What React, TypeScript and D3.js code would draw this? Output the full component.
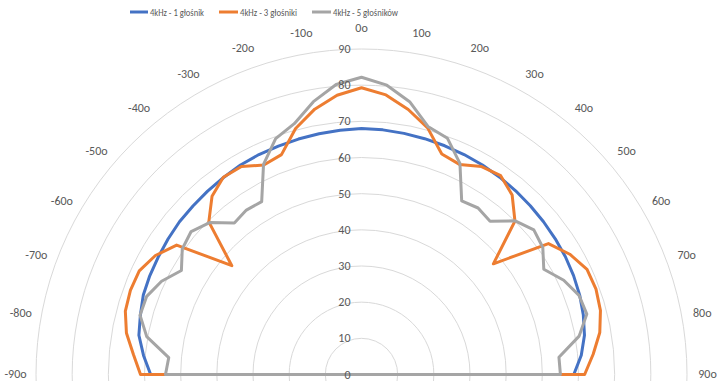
import React from "react";
import * as d3 from "d3";

const angleCats = [-90, -85, -80, -75, -70, -65, -60, -55, -50, -45, -40, -35, -30, -25, -20, -15, -10, -5, 0, 5, 10, 15, 20, 25, 30, 35, 40, 45, 50, 55, 60, 65, 70, 75, 80, 85, 90];
const angleLabels = ["-90o", "-80o", "-70o", "-60o", "-50o", "-40o", "-30o", "-20o", "-10o", "0o", "10o", "20o", "30o", "40o", "50o", "60o", "70o", "80o", "90o"];
const labelAngles = [-90, -80, -70, -60, -50, -40, -30, -20, -10, 0, 10, 20, 30, 40, 50, 60, 70, 80, 90];
const radialTicks = [0, 10, 20, 30, 40, 50, 60, 70, 80, 90];

const seriesNames = ["4kHz - 1 głośnik", "4kHz - 3 głośniki", "4kHz - 5 głośników"];
const seriesColors = ["#4472C4", "#ED7D31", "#A5A5A5"];

const s1 = [58.3, 60.5, 62.5, 63.3, 64.2, 64.6, 64.9, 65.3, 65.7, 65.9, 66.2, 66.5, 66.9, 67.1, 67.2, 67.4, 67.6, 67.8, 68.0,
  67.9, 67.7, 67.5, 67.3, 67.1, 66.9, 66.6, 66.3, 66.0, 65.7, 65.4, 65.1, 64.7, 64.2, 63.5, 62.6, 61.0, 58.7];
const s3 = [61.1, 63.3, 66.0, 67.6, 68.0, 67.8, 65.8, 62.4, 46.8, 59.7, 64.3, 66.6, 66.4, 63.9, 64.7, 70.4, 74.5, 77.5, 79.3,
  77.6, 74.4, 70.6, 64.9, 64.1, 66.4, 67.1, 64.8, 60.0, 47.6, 63.1, 66.5, 68.8, 69.0, 68.4, 66.9, 64.3, 61.7];
const s5 = [54.2, 53.5, 60.3, 63.4, 63.2, 61.0, 57.5, 60.5, 61.5, 59.4, 54.7, 55.5, 55.2, 64.1, 69.4, 71.8, 76.6, 80.5, 82.2,
  80.3, 76.6, 71.0, 69.5, 64.4, 55.4, 56.2, 55.3, 60.1, 62.2, 61.2, 58.2, 61.7, 64.0, 64.5, 61.1, 54.8, 55.0];

const seriesData = [s1, s3, s5];

export default function App() {
  const W = 723, H = 381;
  const cx = 361.5, cy = 374.5;
  const R = 325.5;
  const r = d3.scaleLinear().domain([0, 90]).range([0, R]);
  const rad = (d: number) => (d * Math.PI) / 180;

  const line = d3
    .lineRadial<[number, number]>()
    .angle((d) => rad(d[0]))
    .radius((d) => r(d[1]));

  const font = "Calibri, Carlito, 'Liberation Sans', Arial, sans-serif";
  const labelR = 346;

  const legendItems = [
    { x: 130, w: 18, tw: 54 },
    { x: 219, w: 19, tw: 57 },
    { x: 312, w: 19, tw: 65 },
  ];

  return (
    <svg width={W} height={H} style={{ position: "absolute", left: 0, top: 0, background: "#fff" }} fontFamily={font}>
      <rect x={0} y={0} width={W} height={H} fill="#fff" />
      <g transform={`translate(${cx},${cy})`}>
        {radialTicks.slice(1).map((t) => (
          <circle key={t} r={r(t)} fill="none" stroke="#d9d9d9" strokeWidth={1} />
        ))}
        {seriesData.map((s, i) => {
          const pts: [number, number][] = [[angleCats[0], 0], ...angleCats.map((a, j) => [a, s[j]] as [number, number]), [angleCats[angleCats.length - 1], 0]];
          return (
            <path key={i} d={line(pts) || ""} fill="none" stroke={seriesColors[i]} strokeWidth={3} strokeLinejoin="round" />
          );
        })}
        {radialTicks.map((t) => (
          <text key={t} x={-11} y={-r(t)} textAnchor="end" dominantBaseline="central" fontSize={12} fill="#595959">
            {t}
          </text>
        ))}
        {labelAngles.map((a, i) => (
          <text
            key={a}
            x={labelR * Math.sin(rad(a))}
            y={-labelR * Math.cos(rad(a)) - 1}
            textAnchor="middle"
            dominantBaseline="central"
            fontSize={12}
            fill="#595959"
          >
            {angleLabels[i]}
          </text>
        ))}
      </g>
      {seriesNames.map((n, i) => (
        <g key={n}>
          <line x1={legendItems[i].x} x2={legendItems[i].x + legendItems[i].w} y1={12} y2={12} stroke={seriesColors[i]} strokeWidth={3} />
          <text
            x={legendItems[i].x + legendItems[i].w + 2}
            y={12}
            dominantBaseline="central"
            fontSize={11}
            fill="#595959"
            textLength={legendItems[i].tw}
            lengthAdjust="spacingAndGlyphs"
          >
            {n}
          </text>
        </g>
      ))}
    </svg>
  );
}
